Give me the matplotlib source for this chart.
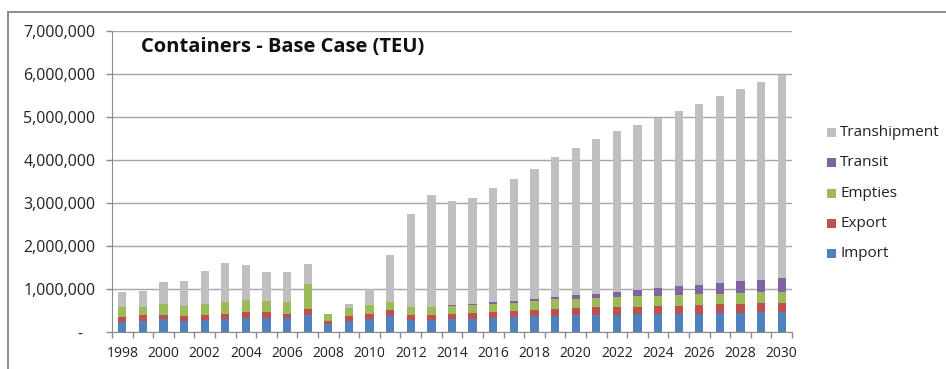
import matplotlib
matplotlib.use("Agg")
import matplotlib.pyplot as plt
from matplotlib.patches import Rectangle
from matplotlib.lines import Line2D
from matplotlib.ticker import FuncFormatter, FixedLocator
import numpy as np

years = list(range(1998, 2031))

# TEU by flow type (thousands)
imports = [240, 260, 295, 255, 280, 300, 330, 330, 320, 395, 190, 255, 295, 370, 280, 280,
           300, 310, 330, 350, 370, 380, 390, 395, 400, 410, 410, 420, 425, 435, 440, 455, 470]
exports = [117, 130, 95, 115, 110, 120, 140, 140, 110, 140, 70, 115, 115, 140, 110, 115,
           120, 130, 140, 140, 140, 160, 175, 185, 190, 180, 195, 190, 205, 210, 220, 210, 210]
empties = [233, 200, 250, 240, 260, 270, 270, 250, 275, 585, 150, 180, 220, 195, 200, 195,
           185, 190, 190, 190, 210, 220, 210, 220, 220, 240, 240, 250, 245, 245, 245, 255, 260]
transit = [0, 0, 0, 0, 0, 0, 0, 0, 0, 0, 0, 0, 0, 0, 0, 0,
           15, 10, 40, 50, 55, 60, 85, 85, 110, 150, 175, 200, 220, 245, 275, 290, 305]
tranship = [330, 375, 520, 570, 760, 920, 815, 685, 700, 455, 10, 110, 380, 1095, 2155, 2590,
            2425, 2475, 2640, 2830, 3025, 3240, 3420, 3615, 3750, 3840, 3960, 4090, 4215, 4345,
            4470, 4610, 4740]

series = [
    ("Import", imports, "#4F81BD"),
    ("Export", exports, "#C0504D"),
    ("Empties", empties, "#9BBB59"),
    ("Transit", transit, "#8064A2"),
    ("Transhipment", tranship, "#BFBFBF"),
]

FONT = ["Open Sans", "DejaVu Sans"]
plt.rcParams["font.family"] = FONT

W, H = 946, 369
fig = plt.figure(figsize=(W / 100, H / 100), dpi=100)
fig.patch.set_facecolor("white")


def px(xp, yp):
    """Figure-fraction coordinates from pixel position (origin top-left)."""
    return xp / W, 1 - yp / H


# chart-area frame: top and left edges
frame_col = "#8C8C8C"
fig.add_artist(Line2D([8 / W, 1.0], [1 - 12 / H] * 2, transform=fig.transFigure,
                      color=frame_col, linewidth=1.4))
fig.add_artist(Line2D([8 / W] * 2, [0.0, 1 - 12 / H], transform=fig.transFigure,
                      color=frame_col, linewidth=1.4))

ax = fig.add_axes([112 / W, (H - 332) / H, (792 - 112) / W, (332 - 31) / H])

x = np.arange(len(years))
bottom = np.zeros(len(years))
for name, vals, color in series:
    v = np.array(vals, dtype=float) * 1000
    ax.bar(x, v, width=0.4, bottom=bottom, color=color, label=name, zorder=3)
    bottom += v

ax.set_xlim(-0.5, len(years) - 0.5)
ax.set_ylim(0, 7_000_000)
ax.set_yticks(np.arange(0, 7_000_001, 1_000_000))
ax.yaxis.set_major_formatter(FuncFormatter(lambda v, p: "-   " if v == 0 else f"{int(v):,}"))
ax.grid(axis="y", color="#A6A6A6", linewidth=1.0, zorder=0)

ax.set_xticks(x[::2])
ax.set_xticklabels([str(y) for y in years[::2]])
ax.xaxis.set_minor_locator(FixedLocator(np.arange(-0.5, len(years), 1.0)))
ax.tick_params(axis="x", which="major", length=0, pad=10, labelsize=10)
ax.tick_params(axis="x", which="minor", length=4, color=frame_col, width=1)
ax.tick_params(axis="y", length=4, color=frame_col, width=1, pad=8, labelsize=11.5)
for lbl in ax.get_xticklabels() + ax.get_yticklabels():
    lbl.set_color("#222222")

for side in ("top", "right"):
    ax.spines[side].set_visible(False)
ax.spines["left"].set_color(frame_col)
ax.spines["bottom"].set_color(frame_col)

tx, ty = px(141, 47)
fig.text(tx, ty, "Containers - Base Case (TEU)", fontsize=14.5,
         fontweight="bold", va="center", ha="left", color="#111111")

# legend, top entry first
for i, (name, _, color) in enumerate(series[::-1]):
    yc = 132.7 + 30.2 * i
    lx, ly = px(827, yc + 4.5)
    fig.add_artist(Rectangle((lx, ly), 9 / W, 9 / H, transform=fig.transFigure,
                             facecolor=color, edgecolor="none"))
    txx, tyy = px(840, yc)
    fig.text(txx, tyy, name, fontsize=11, va="center", ha="left", color="#222222")

fig.savefig("out.png", dpi=100, facecolor="white")
